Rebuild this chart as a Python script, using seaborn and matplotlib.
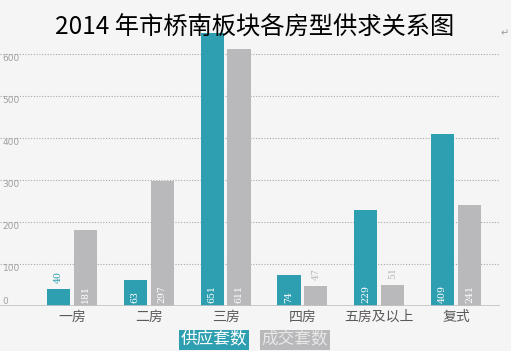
import matplotlib
matplotlib.use("Agg")
import matplotlib.pyplot as plt
import seaborn as sns
import pandas as pd

# ---- data ----
categories = ['一房', '二房', '三房', '四房', '五房及以上', '复式']
series_names = ['供应套数', '成交套数']
supply = [40, 63, 651, 74, 229, 409]
deals = [181, 297, 611, 47, 51, 241]
y_ticks = [0, 100, 200, 300, 400, 500, 600]
title = '2014 年市桥南板块各房型供求关系图'

colors = ['#2e9fb0', '#b9b9bc']
bg = '#f5f5f5'

df = pd.DataFrame({
    'cat': categories * 2,
    'series': [series_names[0]] * len(categories) + [series_names[1]] * len(categories),
    'value': supply + deals,
})

sns.set_style('white')
plt.rcParams['font.family'] = ['Noto Sans CJK SC', 'DejaVu Sans']

fig = plt.figure(figsize=(5.11, 3.51), dpi=100, facecolor=bg)
ax = fig.add_axes([0.0, 0.128, 500 / 511, 0.838])
ax.set_facecolor(bg)

sns.barplot(data=df, x='cat', y='value', hue='series', order=categories,
            hue_order=series_names, palette=colors, width=0.7, gap=0.14,
            saturation=1, ax=ax, legend=False, errorbar=None,
            edgecolor='none', linewidth=0)

ax.set_ylim(0, 700)
ax.set_xlim(-0.9375, 5.573)
ax.set_xlabel('')
ax.set_ylabel('')
for s in ax.spines.values():
    s.set_visible(False)

# gridlines
for t in y_ticks[1:]:
    ax.axhline(t, color='#a8a8a8', lw=0.8, ls=(0, (1, 1.5)), zorder=0)
ax.axhline(0, color='#c2c2c2', lw=1.2, zorder=3)

ax.set_yticks(y_ticks)
ax.set_yticklabels([str(t) for t in y_ticks], fontsize=6.5, color='#a0a0a0',
                   family='DejaVu Sans')
ax.tick_params(axis='y', length=0, pad=-2)
for t, lab in zip(y_ticks, ax.get_yticklabels()):
    lab.set_ha('left')
    lab.set_va('bottom' if t == 0 else 'top')

ax.tick_params(axis='x', length=0, pad=2.5, labelsize=10, labelcolor='#5a5a5a')
for lab in ax.get_xticklabels():
    lab.set_fontweight('light')

# value labels
for ci, cont in enumerate(ax.containers):
    for bar in cont:
        h = bar.get_height()
        x = bar.get_x() + bar.get_width() / 2
        if h < 60:
            ax.text(x, h + 14, f'{int(round(h))}', rotation=90, ha='center', va='bottom',
                    fontsize=7.5, color=colors[ci], family='DejaVu Serif',
                    fontstretch='condensed', zorder=5)
        else:
            ax.text(x, 7, f'{int(round(h))}', rotation=90, ha='center', va='bottom',
                    fontsize=7.5, color='white', family='DejaVu Serif',
                    fontstretch='condensed', zorder=5)

# title
fig.text(255 / 511, 1 - 28 / 351, title, ha='center', va='center', fontsize=17.5,
         color='black', zorder=10)
fig.text(505 / 511, 1 - 33 / 351, '↵', ha='center', va='center', fontsize=7,
         color='#999999', family='DejaVu Sans')

# legend boxes
fig.text(214 / 511, 1 - 340 / 351, series_names[0], ha='center', va='center',
         fontsize=12, color='white', fontweight='light',
         bbox=dict(boxstyle='square,pad=0.1', fc=colors[0], ec='none'))
fig.text(295 / 511, 1 - 340 / 351, series_names[1], ha='center', va='center',
         fontsize=12, color='#e8e8e8', fontweight='light',
         bbox=dict(boxstyle='square,pad=0.1', fc=colors[1], ec='none'))

fig.savefig('out.png', dpi=100, facecolor=bg)
